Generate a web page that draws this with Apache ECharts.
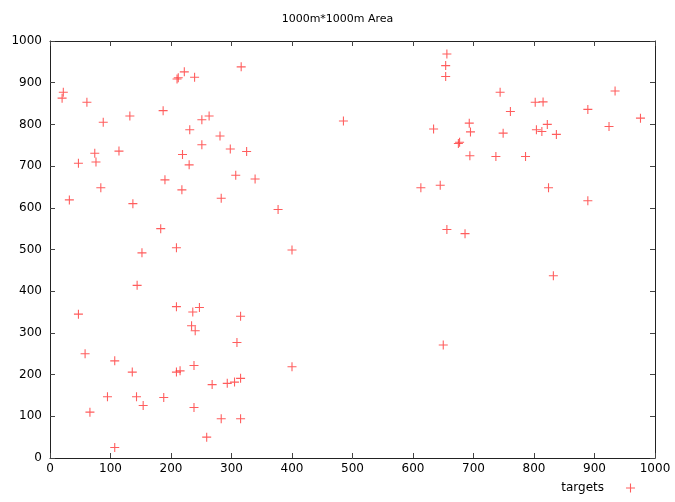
<!DOCTYPE html>
<html>
<head>
<meta charset="utf-8">
<script src="https://cdn.jsdelivr.net/npm/echarts@6/dist/echarts.min.js"></script>
<style>html,body{margin:0;padding:0;background:#fff;}#c{width:675px;height:502px;}</style>
</head>
<body>
<div id="c"></div>
<script>
const titleText = "1000m*1000m Area";
const seriesName = "targets";
const xTicks = [0,100,200,300,400,500,600,700,800,900,1000];
const yTicks = [0,100,200,300,400,500,600,700,800,900,1000];
const xValues = [
  22,20,61,88,132,187,210,212,222,239,251,263,231,281,251,74,76,47,114,219,230,190,
  316,485,298,325,307,339,
  32,84,137,218,283,183,152,209,144,209,47,236,247,
  377,400,315,
  234,240,58,107,136,209,215,238,268,95,143,188,154,238,283,259,107,66,
  309,400,293,305,315,315,
  656,654,654,744,802,761,693,634,695,749,804,675,677,694,737,786,613,645,656,686,
  934,815,889,976,822,813,924,837,
  824,889,832,650
];
const yValues = [
  877,863,853,805,820,833,909,912,926,913,811,820,787,772,751,731,710,707,736,728,703,667,
  938,808,741,735,678,669,
  619,648,610,643,623,550,492,504,414,363,345,350,361,
  596,499,340,
  317,305,250,233,206,206,209,222,176,147,147,145,126,121,94,50,25,110,
  277,219,179,182,191,94,
  969,941,915,877,853,831,803,789,782,779,787,754,757,725,723,723,648,654,548,538,
  880,854,836,815,800,783,795,776,
  648,617,437,271
];
const points = xValues.map((x, i) => [x, yValues[i]]);

const plusPath = 'path://M4.4,0h1.2v4.4h4.4v1.2h-4.4v4.4h-1.2v-4.4h-4.4v-1.2h4.4z';
const font = 'DejaVu Sans';
const axisLine = {show: true, onZero: false, lineStyle: {color: '#222', width: 1}};
const tick = {show: true, inside: true, length: 5, lineStyle: {color: '#444', width: 1}};

function axis(pos, labels, ticks) {
  return {
    type: 'value', position: pos, min: ticks[0], max: ticks[ticks.length - 1], interval: ticks[1] - ticks[0],
    axisLine: axisLine, axisTick: tick, splitLine: {show: false},
    axisLabel: {show: labels, color: '#000', fontFamily: font, fontSize: 12,
      margin: (pos === 'bottom' ? 5 : 8), formatter: v => String(v)}
  };
}

const chart = echarts.init(document.getElementById('c'), null, {renderer: 'canvas'});
chart.setOption({
  animation: false,
  backgroundColor: '#fff',
  title: {text: titleText, left: 'center', top: 9,
    textStyle: {fontFamily: font, fontSize: 11, fontWeight: 'normal', color: '#000'}},
  grid: {left: 50, right: 20, top: 41, bottom: 44, containLabel: false},
  xAxis: [axis('bottom', true, xTicks), axis('top', false, xTicks)],
  yAxis: [axis('left', true, yTicks), axis('right', false, yTicks)],
  legend: {right: 35, bottom: 3, align: 'right', itemWidth: 43, itemHeight: 9,
    data: [{name: seriesName, icon: plusPath}],
    textStyle: {fontFamily: font, fontSize: 12, color: '#000'}},
  series: [{
    name: seriesName, type: 'scatter', xAxisIndex: 0, yAxisIndex: 0,
    symbol: plusPath, symbolSize: 9,
    itemStyle: {color: '#ff3535'},
    emphasis: {disabled: true},
    data: points
  }]
});
</script>
</body>
</html>
